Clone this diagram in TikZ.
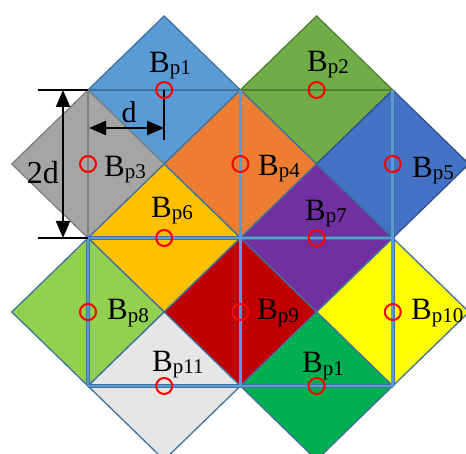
\documentclass[tikz,border=0pt]{standalone}
\usepackage{fontspec}
\setmainfont{Liberation Serif}
\usetikzlibrary{arrows.meta}

\definecolor{fBlue}{HTML}{5B9BD5}
\definecolor{fGreen}{HTML}{70AD47}
\definecolor{fGray}{HTML}{A5A5A5}
\definecolor{fOrange}{HTML}{ED7D31}
\definecolor{fRoyal}{HTML}{4472C4}
\definecolor{fGold}{HTML}{FFC000}
\definecolor{fPurple}{HTML}{7030A0}
\definecolor{fLime}{HTML}{92D050}
\definecolor{fRed}{HTML}{C00000}
\definecolor{fYellow}{HTML}{FFFF00}
\definecolor{fLight}{HTML}{E7E6E6}
\definecolor{fEmerald}{HTML}{00B050}
\definecolor{bBlue}{HTML}{41719C}
\definecolor{bGreen}{HTML}{507E32}
\definecolor{bGray}{HTML}{7F7F7F}
\definecolor{bRoyal}{HTML}{2F528F}

\newcommand{\Bsub}[1]{B\raisebox{-2pt}{\fontsize{21}{21}\selectfont p#1}}

\begin{document}
\begin{tikzpicture}[x=1pt,y=-1pt,
    tile/.style={line width=1.3pt,line join=miter},
    gridln/.style={draw=bBlue,double=fBlue,line width=0.35pt,double distance=2.8pt},
    midln/.style={line width=2pt},
    ring/.style={circle,draw=red,line width=2pt,minimum size=16pt,inner sep=0pt},
    lbl/.style={anchor=base west,inner sep=0pt,font=\fontsize{31}{31}\selectfont},
    dim/.style={line width=2pt},
    dimarr/.style={dim,>={Triangle[length=17pt,width=14pt]},<->}]
    \clip (0,0) rectangle (466,454);
    \def\hx{76.2}
    \def\hy{74}
    % centres of the blocks
    \foreach \n/\cx/\cy in {1/164.2/90,2/316.6/90,3/88/164,4/240.4/164,5/392.8/164,
        6/164.2/238,7/316.6/238,8/88/312,9/240.4/312,10/392.8/312,11/164.2/386,12/316.6/386}
      \coordinate (c\n) at (\cx,\cy);
    % tiles
    \foreach \n/\fc/\bc in {1/fBlue/bBlue,2/fGreen/bGreen,3/fGray/bGray,4/fOrange/bBlue,
        5/fRoyal/bRoyal,6/fGold/bBlue,7/fPurple/bBlue,8/fLime/bBlue,9/fRed/bBlue,
        10/fYellow/bBlue,11/fLight/bBlue,12/fEmerald/bBlue}
      \filldraw[tile,fill=\fc,draw=\bc] (c\n) ++(-\hx,0) -- ++(\hx,-\hy) -- ++(\hx,\hy)
        -- ++(-\hx,\hy) -- cycle;
    % lines through the centres
    \draw[midln,bBlue] (c3 |- c1) -- (c4 |- c1);
    \draw[midln,bGreen] (c4 |- c2) -- (c5 |- c2);
    \draw[midln,bGray] (c3 |- c1) -- (c3 |- c6);
    \draw[gridln] (c3 |- c6) -- (c5 |- c7);
    \draw[gridln] (c3 |- c11) -- (c5 |- c12);
    \draw[gridln] (c3 |- c6) -- (c3 |- c11);
    \draw[gridln] (c4 |- c1) -- (c4 |- c11);
    \draw[gridln] (c5 |- c1) -- (c5 |- c11);
    % dimensions
    \coordinate (extT) at (38,90);
    \coordinate (extB) at (38,238);
    \coordinate (dimT) at (63,90);
    \coordinate (dimB) at (63,238);
    \coordinate (dL) at (89,128);
    \draw[dim] (extT) -- (c3 |- c1);
    \draw[dim] (extB) -- (c3 |- c6);
    \draw[dimarr] (dimT) -- (dimB);
    \draw[dimarr] (dL) -- (c1 |- dL);
    \draw[dim] (c1) -- ++(0,50);
    \node[font=\fontsize{32}{32}\selectfont] (twod) at (43,173) {2d};
    \node[font=\fontsize{30}{30}\selectfont] (done) at (129,112) {d};
    % centre marks
    \foreach \n in {1,...,12}
      \node[ring] (r\n) at (c\n) {};
    % labels
    \foreach \n/\t/\x/\y in {1/1/149/73,2/2/307/72,3/3/104/177,4/4/258/176,5/5/412/178,
        6/6/151/218,7/7/305/221,8/8/107/320,9/9/257/320,10/10/411/320,11/11/152/371,12/1/302/373}
      \node[lbl] (l\n) at (\x,\y) {\Bsub{\t}};
\end{tikzpicture}
\end{document}
